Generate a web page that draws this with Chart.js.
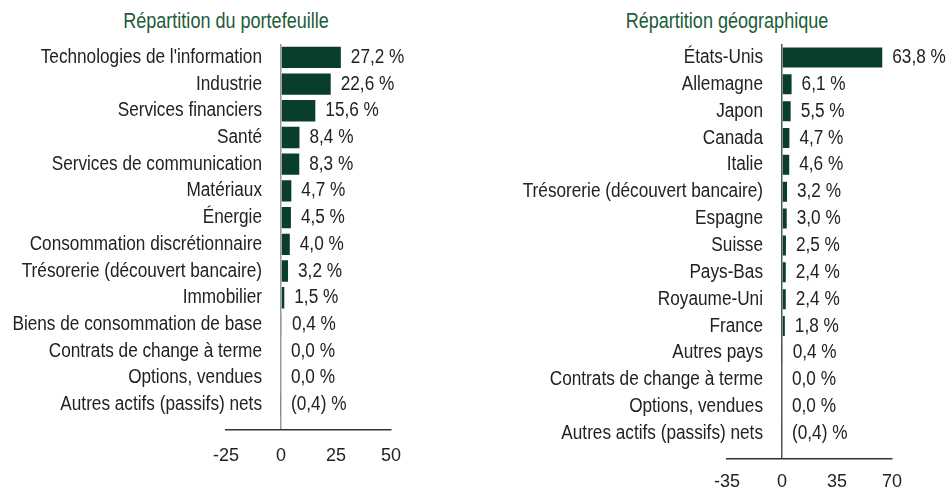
<!DOCTYPE html>
<html>
<head>
<meta charset="utf-8">
<script src="https://cdn.jsdelivr.net/npm/chart.js@4/dist/chart.umd.min.js"></script>
<style>
  body { margin: 0; width: 949px; height: 489px; overflow: hidden; background: #fff; }
  .box { position: absolute; top: 0; height: 520px; }
  .title { position: absolute; top: 8px; line-height: 26px; font-size: 22px; color: #1d5c3a;
           font-family: 'Liberation Sans', Arial, sans-serif;
           white-space: nowrap; transform: translateX(-50%) scaleX(0.82); transform-origin: center; }
</style>
</head>
<body>
<div class="title" style="left:226px">Répartition du portefeuille</div>
<div class="title" style="left:727px">Répartition géographique</div>
<div class="box" style="left:0;width:475px"><canvas id="sectorChart"></canvas></div>
<div class="box" style="left:475px;width:474px"><canvas id="geoChart"></canvas></div>
<script>
const sectorLabels = ["Technologies de l'information", 'Industrie', 'Services financiers', 'Santé',
    'Services de communication', 'Matériaux', 'Énergie', 'Consommation discrétionnaire',
    'Trésorerie (découvert bancaire)', 'Immobilier', 'Biens de consommation de base',
    'Contrats de change à terme', 'Options, vendues', 'Autres actifs (passifs) nets'];
const sectorValues = [27.2, 22.6, 15.6, 8.4, 8.3, 4.7, 4.5, 4.0, 3.2, 1.5, 0.4, 0.0, 0.0, -0.4];
const sectorTicks = [-25, 0, 25, 50];

const geoLabels = ['États-Unis', 'Allemagne', 'Japon', 'Canada', 'Italie',
    'Trésorerie (découvert bancaire)', 'Espagne', 'Suisse', 'Pays-Bas', 'Royaume-Uni', 'France',
    'Autres pays', 'Contrats de change à terme', 'Options, vendues', 'Autres actifs (passifs) nets'];
const geoValues = [63.8, 6.1, 5.5, 4.7, 4.6, 3.2, 3.0, 2.5, 2.4, 2.4, 1.8, 0.4, 0.0, 0.0, -0.4];
const geoTicks = [-35, 0, 35, 70];

const FONT = "'Liberation Sans', Arial, sans-serif";
const BAR = '#0a3e2c';
const TEXT = '#222';
const NARROW = 0.86; // squeeze to look like Arial Narrow

function fmt(v) {
    const s = Math.abs(v).toFixed(1).replace('.', ',');
    return v < 0 ? '(' + s + ') %' : s + ' %';
}

function narrowText(ctx, text, x, y) {
    ctx.save();
    ctx.translate(x, y);
    ctx.scale(NARROW, 1);
    ctx.fillText(text, 0, 0);
    ctx.restore();
}

// category names left of the zero line, values right of the bars
const barText = {
    id: 'barText',
    afterDatasetsDraw(chart) {
        const ctx = chart.ctx;
        const x0 = chart.scales.x.getPixelForValue(0);
        const values = chart.data.datasets[0].data;
        ctx.save();
        ctx.font = '20px ' + FONT;
        ctx.fillStyle = TEXT;
        ctx.textBaseline = 'middle';
        chart.getDatasetMeta(0).data.forEach((bar, i) => {
            ctx.textAlign = 'right';
            narrowText(ctx, chart.data.labels[i], x0 - 19, bar.y);
            ctx.textAlign = 'left';
            narrowText(ctx, fmt(values[i].x), Math.max(bar.x, x0) + 10, bar.y);
        });
        ctx.restore();
    }
};

function makeChart(id, labels, values, ticks, pad, zeroColor, tickPad) {
    return new Chart(document.getElementById(id), {
        type: 'bar',
        data: {
            labels: labels,
            datasets: [{
                data: values.map((v, i) => ({ x: v, y: i })),
                backgroundColor: BAR,
                categoryPercentage: 0.8,
                barPercentage: 1
            }]
        },
        options: {
            indexAxis: 'y',
            responsive: true,
            maintainAspectRatio: false,
            animation: false,
            layout: { padding: pad },
            plugins: { legend: { display: false }, tooltip: { enabled: false } },
            scales: {
                x: {
                    min: ticks[0],
                    max: ticks[ticks.length - 1],
                    afterBuildTicks: (scale) => { scale.ticks = ticks.map(v => ({ value: v })); },
                    grid: {
                        drawTicks: false,
                        lineWidth: 1.5,
                        color: (c) => (c.tick && c.tick.value === 0 ? zeroColor : 'rgba(0,0,0,0)')
                    },
                    border: { display: true, color: '#333', width: 1.5 },
                    ticks: { padding: tickPad, color: TEXT, font: { family: FONT, size: 18 } }
                },
                // a little extra room under the last row, as in the original
                y: {
                    type: 'linear', reverse: true, offset: false,
                    min: -0.5, max: labels.length - 0.07, display: false
                }
            }
        },
        plugins: [barText]
    });
}

makeChart('sectorChart', sectorLabels, sectorValues, sectorTicks,
    { left: 226, right: 84, top: 44, bottom: 37 }, '#999', 16);
makeChart('geoChart', geoLabels, geoValues, geoTicks,
    { left: 252, right: 57, top: 44, bottom: 14 }, '#555', 13);
</script>
</body>
</html>
